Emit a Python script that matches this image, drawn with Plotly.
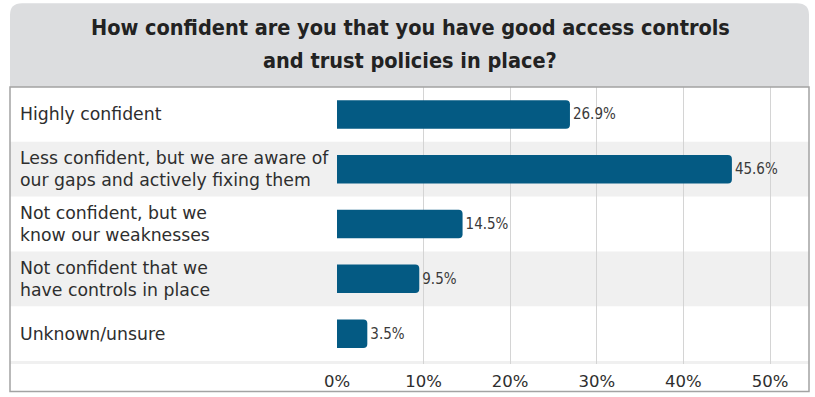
import plotly.graph_objects as go

# Survey answers and shares (percent of respondents)
categories = [
    "Highly confident",
    "Less confident, but we are aware of<br>our gaps and actively fixing them",
    "Not confident, but we<br>know our weaknesses",
    "Not confident that we<br>have controls in place",
    "Unknown/unsure",
]
values = [26.9, 45.6, 14.5, 9.5, 3.5]
value_labels = ["26.9%", "45.6%", "14.5%", "9.5%", "3.5%"]
tick_values = [0, 10, 20, 30, 40, 50]
tick_labels = ["0%", "10%", "20%", "30%", "40%", "50%"]
title_lines = [
    "How confident are you that you have good access controls",
    "and trust policies in place?",
]

W, H = 815, 397
ML, MR, MT, MB = 337, 6, 87, 29
PW = W - ML - MR
PH = H - MT - MB


def px_x(p):
    return (p - ML) / PW


def px_y(p):
    return (H - MB - p) / PH


BAR = "#045a83"
ROW_GRAY = "#f0f0f0"
HEADER = "#dcdddf"
BORDER = "#a3a3a3"
TEXT = "#2e2e2e"
BODY_FONT = "DejaVu Sans, sans-serif"
COND_FONT = "DejaVu Sans Condensed, sans-serif"

ids = list(range(len(categories)))

fig = go.Figure(
    go.Bar(
        x=values,
        y=ids,
        orientation="h",
        width=0.52,
        marker=dict(color=BAR, cornerradius=4, line=dict(width=0)),
        text=value_labels,
        textposition="outside",
        textfont=dict(family=COND_FONT, size=15, color="#3a3a3a"),
        cliponaxis=False,
        hoverinfo="skip",
    )
)

shapes = []
# header panel with rounded top corners
x0, x1, yt, yb, r = px_x(10), px_x(809), px_y(2), px_y(87), 12
rx, ry = r / PW, r / PH
shapes.append(dict(
    type="path", xref="paper", yref="paper", layer="below",
    path=(f"M {x0},{yb} L {x0},{yt - ry} Q {x0},{yt} {x0 + rx},{yt} "
          f"L {x1 - rx},{yt} Q {x1},{yt} {x1},{yt - ry} L {x1},{yb} Z"),
    fillcolor=HEADER, line=dict(width=0),
))
# alternating row shading
for i in ids:
    if i % 2 == 1:
        shapes.append(dict(
            type="rect", xref="paper", yref="y", layer="below",
            x0=px_x(10), x1=px_x(809), y0=i - 0.5, y1=i + 0.5,
            fillcolor=ROW_GRAY, line=dict(width=0),
        ))
# thin strip under the last row
shapes.append(dict(
    type="rect", xref="paper", yref="y", layer="below",
    x0=px_x(10), x1=px_x(809), y0=len(ids) - 0.5, y1=len(ids) - 0.5 + 3 / 55.6,
    fillcolor=ROW_GRAY, line=dict(width=0),
))
# body frame
shapes.append(dict(
    type="rect", xref="paper", yref="paper", layer="above",
    x0=px_x(10), x1=px_x(809), y0=px_y(396), y1=px_y(87),
    fillcolor="rgba(0,0,0,0)", line=dict(color=BORDER, width=1.5),
))

annotations = []
for line, ypx in zip(title_lines, [27, 60]):
    annotations.append(dict(
        text=line, xref="paper", yref="paper",
        x=px_x(410), y=px_y(ypx), xanchor="center", yanchor="middle",
        showarrow=False, align="center",
        font=dict(family=COND_FONT, size=21.5, color="#222222", weight="bold"),
    ))
for i, c in zip(ids, categories):
    annotations.append(dict(
        text=c, xref="paper", yref="y", x=px_x(18), y=i,
        xanchor="left", yanchor="middle", align="left", showarrow=False,
        font=dict(family=BODY_FONT, size=17.3, color=TEXT),
    ))

fig.update_layout(
    width=W, height=H,
    margin=dict(l=ML, r=MR, t=MT, b=MB, pad=0),
    paper_bgcolor="white", plot_bgcolor="rgba(0,0,0,0)",
    showlegend=False,
    shapes=shapes,
    annotations=annotations,
    xaxis=dict(
        range=[0, PW / 8.66], tickvals=tick_values, ticktext=tick_labels,
        showgrid=True, gridcolor="#d4d4d4", gridwidth=1, zeroline=False,
        showline=False, ticks="", ticklabelstandoff=5,
        tickfont=dict(family=BODY_FONT, size=16.5, color=TEXT),
        fixedrange=True,
    ),
    yaxis=dict(
        range=[len(ids) - 0.5 + 3 / 55.6, -0.5], showticklabels=False,
        showgrid=False, zeroline=False, showline=False, ticks="",
        fixedrange=True,
    ),
)

fig.write_html("out.html")
